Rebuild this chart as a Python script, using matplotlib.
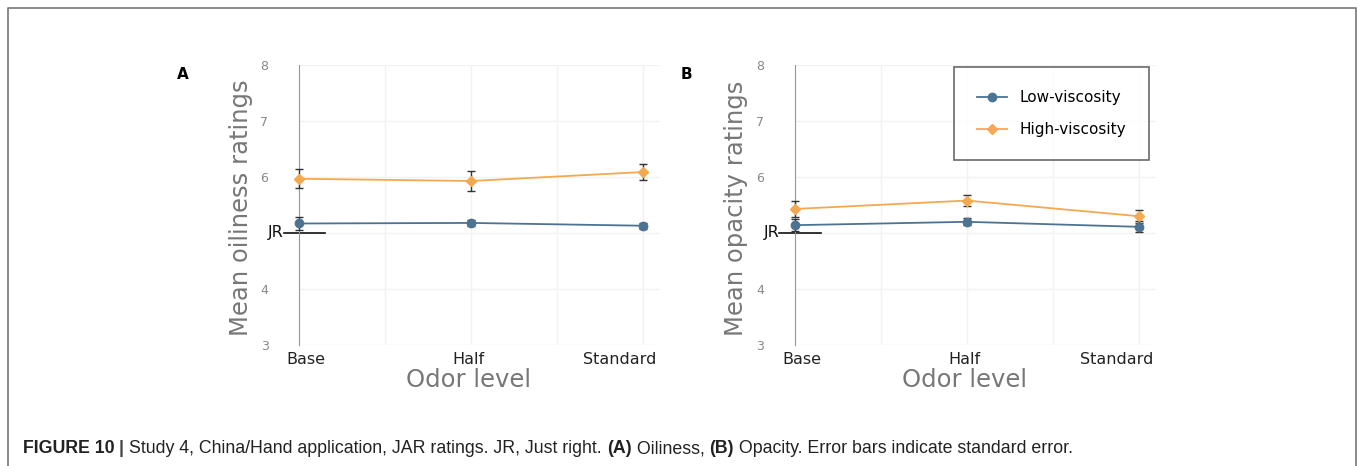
import matplotlib.pyplot as plt
from matplotlib.lines import Line2D

# niveis de odor e medias JAR com erro padrao
odor_levels = ['Base', 'Half', 'Standard']
x_pos = [0, 1, 2]

oil_low = [5.17, 5.18, 5.13]
oil_low_se = [0.11, 0.06, 0.05]
oil_high = [5.97, 5.93, 6.09]
oil_high_se = [0.17, 0.17, 0.15]

opa_low = [5.14, 5.20, 5.11]
opa_low_se = [0.11, 0.06, 0.10]
opa_high = [5.43, 5.58, 5.30]
opa_high_se = [0.14, 0.10, 0.12]

y_ticks = [3, 4, 5, 6, 7, 8]
y_ticklabels = ['3', '4', '', '6', '7', '8']
jr_value = 5

col_low = '#4d7393'
col_high = '#f4a850'
col_err = '#333333'

fig = plt.figure(figsize=(13.58, 4.66), dpi=100)

# moldura da figura (sem lado de baixo)
x0, x1, y_topo = 8 / 1358, 1356 / 1358, 1 - 8 / 466
fig.add_artist(Line2D([x0, x0, x1, x1], [0, y_topo, y_topo, 0], transform=fig.transFigure,
                      color='#777777', linewidth=1.2))


def painel(ax, low, low_se, high, high_se, ylabel, desloc):
    ax.errorbar(x_pos, low, yerr=low_se, color=col_low, marker='o', markersize=6,
                linewidth=1.3, ecolor=col_err, elinewidth=1, capsize=3,
                clip_on=False, zorder=3)
    ax.errorbar(x_pos, high, yerr=high_se, color=col_high, marker='D', markersize=5,
                linewidth=1.3, ecolor=col_err, elinewidth=1, capsize=3,
                clip_on=False, zorder=3)
    ax.set_xlim(0, 2.1)
    ax.set_ylim(3, 8)
    ax.set_yticks(y_ticks)
    ax.set_yticklabels(y_ticklabels)
    ax.set_xticks(x_pos)
    ax.set_xticklabels([])
    ax.set_xticks([0.5, 1.5], minor=True)
    ax.tick_params(axis='both', which='both', length=0)
    ax.tick_params(axis='y', pad=22, labelsize=9, labelcolor='#888888')
    # rotulos do eixo x ficam dentro da area do grafico
    for xi, nome, dx in zip(x_pos, odor_levels, desloc):
        ax.annotate(nome, xy=(xi, 0), xycoords=('data', 'axes fraction'),
                    xytext=(dx, -5), textcoords='offset points', ha='center', va='top',
                    fontsize=11.5, color='#222222')
    ax.grid(True, which='both', color='#f2f2f2', linewidth=1)
    ax.set_axisbelow(True)
    for s in ['top', 'right', 'bottom']:
        ax.spines[s].set_visible(False)
    ax.spines['left'].set_color('#999999')
    # linha de referencia "just right"
    ax.plot([-0.09, 0.15], [jr_value, jr_value], color='#111111', linewidth=1.2,
            clip_on=False, zorder=2)
    ax.text(-0.09, jr_value, 'JR', ha='right', va='center', fontsize=11.5, color='#111111')
    ax.set_ylabel(ylabel, fontsize=17.5, color='#777777')
    ax.yaxis.set_label_coords(-0.162, 0.49)
    ax.yaxis.label.set_va('center')
    ax.set_xlabel('Odor level', fontsize=17.5, color='#777777')
    ax.xaxis.set_label_coords(0.47, -0.083)
    ax.xaxis.label.set_va('top')


ax1 = fig.add_axes([0.2202, 0.26, 0.266, 0.6])
painel(ax1, oil_low, oil_low_se, oil_high, oil_high_se, 'Mean oiliness ratings', [5, -2, -17])

ax2 = fig.add_axes([0.5854, 0.26, 0.266, 0.6])
painel(ax2, opa_low, opa_low_se, opa_high, opa_high_se, 'Mean opacity ratings', [5, -2, -16])

handles = [Line2D([], [], color=col_low, marker='o', markersize=6, linewidth=1.3),
           Line2D([], [], color=col_high, marker='D', markersize=5, linewidth=1.3)]
leg = ax2.legend(handles, ['Low-viscosity', 'High-viscosity'], loc='upper right',
                 bbox_to_anchor=(0.98, 0.993), fontsize=11, frameon=True, fancybox=False,
                 borderpad=1.5, labelspacing=1.1, handlelength=2.0, borderaxespad=0)
leg.get_frame().set_edgecolor('#444444')
leg.get_frame().set_linewidth(1.2)

fig.text(0.130, 0.83, 'A', fontsize=11, fontweight='bold')
fig.text(0.501, 0.83, 'B', fontsize=11, fontweight='bold')

# legenda da figura, montada em pedacos lado a lado
cap_font = 'Liberation Sans'
partes = [('FIGURE 10 ', 'bold', '#222222'), ('| ', 'bold', '#444444'),
          ('Study 4, China/Hand application, JAR ratings. JR, Just right. ', 'normal', '#222222'),
          ('(A)', 'bold', '#222222'), (' Oiliness, ', 'normal', '#222222'),
          ('(B)', 'bold', '#222222'),
          (' Opacity. Error bars indicate standard error.', 'normal', '#222222')]
renderer = fig.canvas.get_renderer()
x_atual = 23 / 1358
for texto, peso, cor in partes:
    t = fig.text(x_atual, 1 - 453 / 466, texto, fontsize=12.8, fontweight=peso,
                 family=cap_font, color=cor, va='baseline')
    bb = t.get_window_extent(renderer=renderer)
    x_atual += bb.width / fig.bbox.width

fig.savefig('out.png', dpi=100)
